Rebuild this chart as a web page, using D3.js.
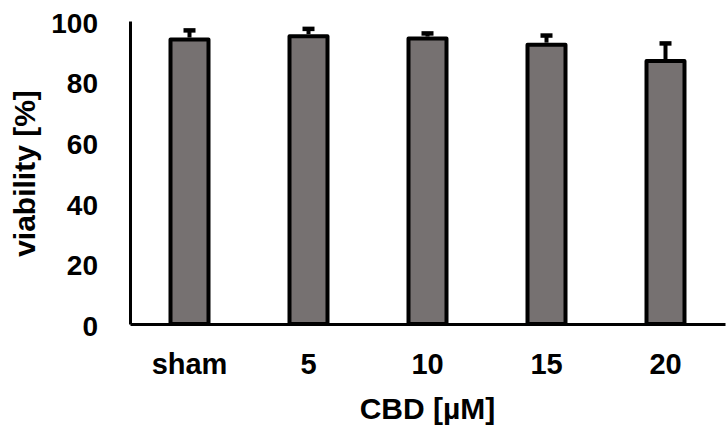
<!DOCTYPE html>
<html>
<head>
<meta charset="utf-8">
<script src="https://cdn.jsdelivr.net/npm/d3@7"></script>
<style>
  body { margin: 0; background: #fff; }
  text { font-family: "Liberation Sans", Arial, sans-serif; font-weight: bold; fill: #000; }
</style>
</head>
<body>
<div id="chart"></div>
<script>
// data
var categories = ["sham", "5", "10", "15", "20"];
var viability = [93.9, 95.0, 94.2, 92.2, 86.8];
var errors = [3.0, 2.4, 1.7, 3.0, 5.8];
var yTicks = [0, 20, 40, 60, 80, 100];

var W = 726, H = 427;
var margin = {top: 21, right: 1, bottom: 103, left: 130},
    width = W - margin.left - margin.right,
    height = H - margin.top - margin.bottom;

var svg = d3.select("#chart").append("svg")
    .attr("width", W)
    .attr("height", H)
  .append("g")
    .attr("transform", "translate(" + margin.left + "," + margin.top + ")");

var x = d3.scaleBand().domain(categories).range([0, width]).padding(0);
var y = d3.scaleLinear().domain([0, 100]).range([height, 0]);

var barW = 38;

// bars
svg.selectAll("rect.bar")
  .data(categories)
  .enter().append("rect")
    .attr("class", "bar")
    .attr("x", function(d) { return x(d) + x.bandwidth() / 2 - barW / 2; })
    .attr("y", function(d, i) { return y(viability[i]); })
    .attr("width", barW)
    .attr("height", function(d, i) { return height - y(viability[i]); })
    .attr("fill", "#767171")
    .attr("stroke", "#000")
    .attr("stroke-width", 4)
    .attr("stroke-linejoin", "round");

// error bars (upper only)
var err = svg.append("g");
categories.forEach(function(c, i) {
  var cx = x(c) + x.bandwidth() / 2;
  err.append("line")
    .attr("x1", cx).attr("x2", cx)
    .attr("y1", y(viability[i]) - 2)
    .attr("y2", y(viability[i] + errors[i]))
    .attr("stroke", "#000").attr("stroke-width", 4);
  err.append("line")
    .attr("x1", cx - 6).attr("x2", cx + 6)
    .attr("y1", y(viability[i] + errors[i]))
    .attr("y2", y(viability[i] + errors[i]))
    .attr("stroke", "#000").attr("stroke-width", 4.5);
});

// y axis
var yAxis = svg.append("g")
  .call(d3.axisLeft(y).tickValues(yTicks).tickSize(0).tickPadding(32));
yAxis.select(".domain").attr("stroke", "#000").attr("stroke-width", 3);
yAxis.selectAll("text").style("font-size", "28px").attr("dy", "0.4em");

// x axis
var xAxis = svg.append("g")
  .attr("transform", "translate(0," + height + ")")
  .call(d3.axisBottom(x).tickSize(0).tickPadding(0));
xAxis.select(".domain").attr("stroke", "#000").attr("stroke-width", 3);
xAxis.selectAll("text").style("font-size", "29px").attr("dy", null).attr("y", 50);

// axis titles
svg.append("text")
  .attr("text-anchor", "middle")
  .attr("x", width / 2)
  .attr("y", height + 95)
  .style("font-size", "30px")
  .text("CBD [µM]");

svg.append("text")
  .attr("text-anchor", "middle")
  .attr("transform", "rotate(-90)")
  .attr("x", -(height / 2) - 1)
  .attr("y", -margin.left + 35)
  .style("font-size", "30px")
  .text("viability [%]");
</script>
</body>
</html>
